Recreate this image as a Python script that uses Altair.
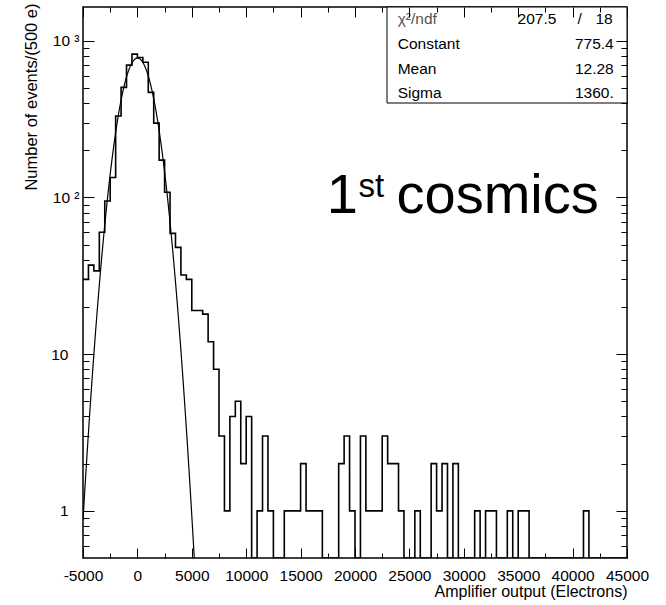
import altair as alt
import pandas as pd

FONT = "Liberation Sans"

# ---------------- data ----------------
bin_start = -5000
bin_width = 500
counts = [30, 37, 34, 60, 95, 134, 331, 504, 699, 821,
          782, 729, 468, 298, 173, 108, 59, 48, 32, 30,
          19, 19, 18, 12, 8, 3, 1, 4, 5, 2,
          4, 0, 1, 3, 1, 0, 0, 1, 1, 1,
          2, 1, 1, 1, 0, 0, 0, 2, 3, 1,
          0, 3, 1, 1, 1, 3, 2, 2, 1, 0,
          0, 1, 0, 0, 2, 1, 2, 0, 2, 0,
          0, 0, 1, 0, 1, 1, 0, 0, 1, 0,
          1, 1, 0, 0, 0, 0, 0, 0, 0, 0,
          0, 0, 1, 0, 0, 0, 0, 0, 0, 0]

x_domain = [-5000, 45000]
y_domain = [0.5, 1642]

x_label_values = [-5000, 0, 5000, 10000, 15000, 20000, 25000, 30000, 35000, 40000, 45000]
x_tick_values = list(range(-5000, 45001, 2500))
y_label_values = [1, 10, 100, 1000]
y_tick_values = [0.6, 0.7, 0.8, 0.9] + [m * 10 ** e for e in range(0, 3) for m in range(1, 10)] + [1000]

fit_names = ["Constant", "Mean", "Sigma"]
fit_values = [775.4, 12.28, 1360.0]
fit_texts = ["775.4", "12.28", "1360."]
chi2_value = "207.5"
ndf_value = "18"

x_title = "Amplifier output (Electrons)"
y_title = "Number of events/(500 e)"

# ---------------- tables ----------------
edges = [bin_start + bin_width * i for i in range(len(counts) + 1)]
shown = [c if c > 0 else y_domain[0] for c in counts]
df_hist = pd.DataFrame({"edge": edges, "count": counts + [counts[-1]], "shown": shown + [shown[-1]]})
one = pd.DataFrame({"k": [0]})

W, H = 544, 551

xscale = alt.Scale(domain=x_domain, nice=False, zero=False)
yscale = alt.Scale(type="log", domain=y_domain, nice=False)

x_major = {"condition": {"test": "datum.value % 5000 == 0", "value": 10}, "value": 5}
y_major = {"condition": {"test": "datum.value == 1 || datum.value == 10 || datum.value == 100 || datum.value == 1000", "value": 11}, "value": 6}

axis_x_labels = alt.Axis(
    orient="bottom", values=x_label_values, ticks=False, domain=False, grid=False,
    labelExpr="'' + datum.value", labelFlush=False, labelOverlap=False,
    labelFont=FONT, labelFontSize=15.5, labelColor="black", labelPadding=10,
    title=x_title, titleFont=FONT, titleFontSize=16, titleFontWeight="normal",
    titleColor="black", titleAnchor="end", titleAlign="right", titleX=W, titleY=38,
    titleBaseline="alphabetic")

axis_y_labels = alt.Axis(
    orient="left", values=y_label_values, ticks=False, domain=False, grid=False,
    labelExpr="datum.value == 1000 ? '10 ³' : datum.value == 100 ? '10 ²' : datum.value == 10 ? '10' : '1'",
    labelFont=FONT, labelFontSize=15.5, labelColor="black", labelOverlap=False, labelFlush=False,
    labelPadding={"condition": {"test": "datum.value >= 100", "value": 4}, "value": 15},
    title=y_title, titleFont=FONT, titleFontSize=16.5, titleFontWeight="normal",
    titleColor="black", titleAngle=270, titleX=-52, titleY=-4, titleAlign="right",
    titleBaseline="middle")

axis_x_in_bottom = alt.Axis(orient="top", offset=-H, values=x_tick_values, tickSize=x_major,
                            labels=False, domain=False, grid=False, title="", tickColor="black",
                            tickWidth=1, zindex=1)
axis_x_in_top = alt.Axis(orient="bottom", offset=-H, values=x_tick_values, tickSize=x_major,
                         labels=False, domain=False, grid=False, title="", tickColor="black",
                         tickWidth=1, zindex=1)
axis_y_in_left = alt.Axis(orient="right", offset=-W, values=y_tick_values, tickSize=y_major,
                          labels=False, domain=False, grid=False, title="", tickColor="black",
                          tickWidth=1, zindex=1)
axis_y_in_right = alt.Axis(orient="left", offset=-W, values=y_tick_values, tickSize=y_major,
                           labels=False, domain=False, grid=False, title="", tickColor="black",
                           tickWidth=1, zindex=1)

hist = alt.Chart(df_hist).mark_line(interpolate="step-after", color="black", strokeWidth=1.6, clip=True).encode(
    x=alt.X("edge:Q", scale=xscale, axis=axis_x_labels),
    y=alt.Y("shown:Q", scale=yscale, axis=axis_y_labels),
)

c0, mu, sg = fit_values
fit = alt.Chart(alt.sequence(-5000, 6001, 20, as_="xv")).transform_calculate(
    yv=f"{c0} * exp(-0.5 * pow((datum.xv - {mu}) / {sg}, 2))"
).mark_line(color="black", strokeWidth=1.2, clip=True).encode(
    x=alt.X("xv:Q", scale=xscale, axis=axis_x_in_bottom),
    y=alt.Y("yv:Q", scale=yscale, axis=axis_y_in_left),
)

ghost = alt.Chart(df_hist).mark_line(strokeOpacity=0, clip=True).encode(
    x=alt.X("edge:Q", scale=xscale, axis=axis_x_in_top),
    y=alt.Y("shown:Q", scale=yscale, axis=axis_y_in_right),
)

# ---------------- stats box ----------------
box = alt.Chart(one).mark_rect(fill="white", stroke="black", strokeWidth=1).encode(
    x=alt.value(304), x2=alt.value(W), y=alt.value(0), y2=alt.value(96))

def txt(s, x, y, size=15.5, align="left", color="black", baseline="middle"):
    return alt.Chart(one).mark_text(text=s, font=FONT, fontSize=size, align=align,
                                    baseline=baseline, color=color).encode(
        x=alt.value(x), y=alt.value(y))

row_y = [11.7, 36.7, 61.7, 85.7]
stats = [
    txt("χ²/ndf", 314.7, row_y[0], color="#555555"),
    txt(chi2_value, 473.4, row_y[0], align="right"),
    txt("/", 496.7, row_y[0], align="center"),
    txt(ndf_value, 529.7, row_y[0], align="right"),
]
for i, (n, v) in enumerate(zip(fit_names, fit_texts)):
    stats.append(txt(n, 314.7, row_y[i + 1]))
    stats.append(txt(v, 530.7, row_y[i + 1], align="right"))

big = [
    txt("1", 243.7, 205.7, size=56, baseline="alphabetic"),
    txt("st", 275.5, 189.7, size=33, baseline="alphabetic"),
    txt("cosmics", 313.5, 205.7, size=56, baseline="alphabetic"),
]

chart = alt.layer(hist, fit, ghost, box, *stats, *big).resolve_axis(
    x="independent", y="independent"
).properties(
    width=W, height=H,
    autosize=alt.AutoSizeParams(type="none"),
    padding={"left": 83, "top": 7, "right": 39, "bottom": 47},
).configure_view(stroke="black", strokeWidth=1.5)

chart.save("out.html", embed_options={"renderer": "svg", "actions": False})
